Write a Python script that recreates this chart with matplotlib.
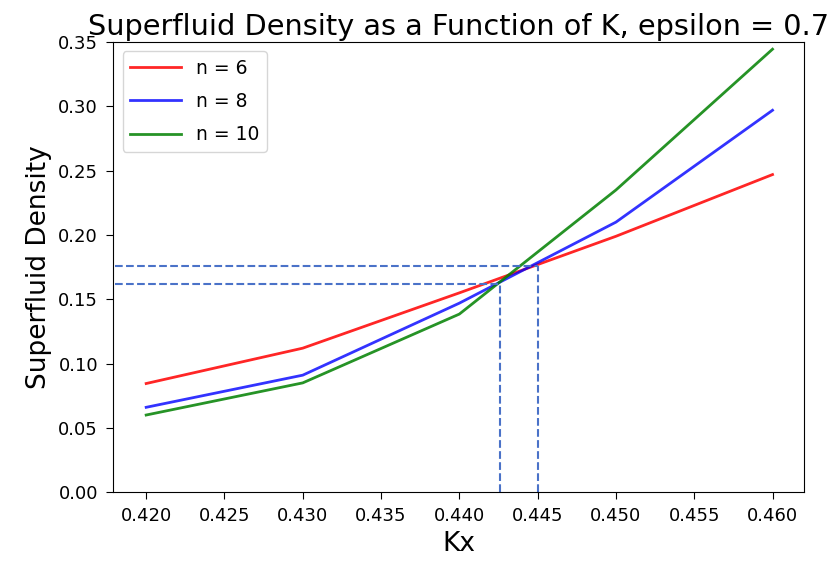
import matplotlib
matplotlib.use('Agg')
import matplotlib.pyplot as plt

Kx = [0.420, 0.430, 0.440, 0.450, 0.460]
n6 = [0.0845, 0.112, 0.155, 0.199, 0.247]
n8 = [0.066, 0.091, 0.147, 0.210, 0.297]
n10 = [0.060, 0.085, 0.1385, 0.235, 0.3445]

# crossing points marked with dashed guides
cross_x = [0.4426, 0.4450]
cross_y = [0.1618, 0.1758]

fig, ax = plt.subplots(figsize=(8.33, 5.69), dpi=100)
fig.subplots_adjust(left=0.136, right=0.965, bottom=0.135, top=0.926)

ax.plot(Kx, n6, color='red', alpha=0.85, linewidth=2, label='n = 6')
ax.plot(Kx, n8, color='blue', alpha=0.8, linewidth=2, label='n = 8')
ax.plot(Kx, n10, color='green', alpha=0.85, linewidth=2, label='n = 10')

for cx, cy in zip(cross_x, cross_y):
    ax.plot([0.418, cx], [cy, cy], '--', color='#4a72c8', linewidth=1.5)
    ax.plot([cx, cx], [0, cy], '--', color='#4a72c8', linewidth=1.5)

ax.set_ylim(0, 0.35)
ax.set_xlim(0.4179, 0.4620)
ax.set_xticks([0.420, 0.425, 0.430, 0.435, 0.440, 0.445, 0.450, 0.455, 0.460])
ax.set_xticklabels(['0.420', '0.425', '0.430', '0.435', '0.440', '0.445', '0.450', '0.455', '0.460'])
ax.set_yticks([0, 0.05, 0.10, 0.15, 0.20, 0.25, 0.30, 0.35])
ax.set_yticklabels(['0.00', '0.05', '0.10', '0.15', '0.20', '0.25', '0.30', '0.35'])
ax.tick_params(labelsize=13, length=5, pad=6)

ax.set_title('Superfluid Density as a Function of K, epsilon = 0.7', fontsize=20.7, pad=5)
ax.set_xlabel('Kx', fontsize=19)
ax.set_ylabel('Superfluid Density', fontsize=19)
ax.legend(fontsize=13.5, loc='upper left', handlelength=2.7, labelspacing=0.75)

fig.savefig('out.png')
